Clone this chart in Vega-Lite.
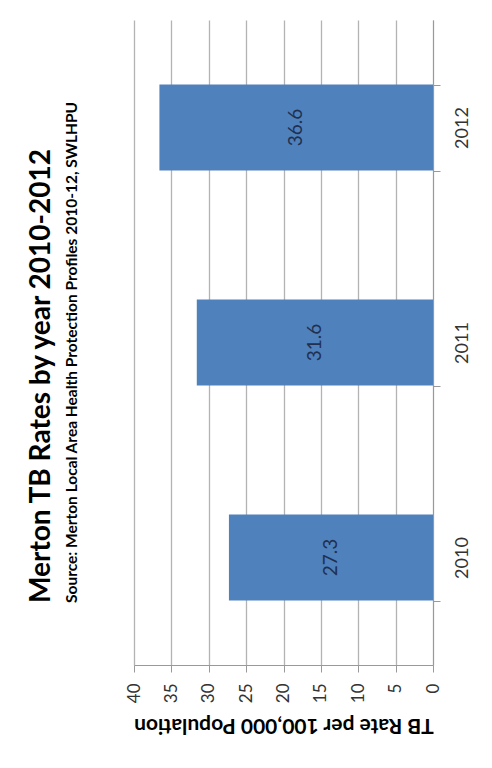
{
  "$schema": "https://vega.github.io/schema/vega-lite/v6.json",
  "width": 299,
  "height": 645,
  "autosize": {"type": "none"},
  "padding": {"left": 134, "top": 20, "right": 59, "bottom": 103},
  "background": "white",
  "data": {"values": [
    {"year": "2010", "rate": 27.3},
    {"year": "2011", "rate": 31.6},
    {"year": "2012", "rate": 36.6}
  ]},
  "title": {
    "text": "Merton TB Rates by year 2010-2012",
    "subtitle": "Source: Merton Local Area Health Protection Profiles 2010-12, SWLHPU",
    "orient": "left",
    "anchor": "start",
    "frame": "group",
    "dx": 62,
    "offset": 45,
    "font": "Lato",
    "fontSize": 28,
    "fontWeight": "bold",
    "color": "black",
    "subtitleFont": "Lato",
    "subtitleFontSize": 15.5,
    "subtitleFontWeight": "bold",
    "subtitleColor": "black",
    "subtitlePadding": 9
  },
  "config": {
    "view": {"stroke": null},
    "font": "Lato",
    "axisX": {
      "values": [0, 5, 10, 15, 20, 25, 30, 35, 40],
      "labelOverlap": false,
      "titleAngle": 180, "titleBaseline": "bottom",
      "titleFontSize": 21, "titleFontWeight": "bold", "titleColor": "black",
      "titlePadding": 12,
      "labelAngle": -90, "labelFontSize": 17, "labelColor": "#333333",
      "labelPadding": 11,
      "tickSize": 7, "tickColor": "#999999", "domainColor": "#999999",
      "grid": true, "gridColor": "#b3b3b3", "gridWidth": 1.3
    }
  },
  "layer": [
    {
      "mark": {"type": "bar", "color": "#4f81bd"},
      "encoding": {
        "y": {
          "field": "year", "type": "nominal", "sort": "descending",
          "scale": {"paddingInner": 0.6, "paddingOuter": 0.3},
          "axis": {
            "orient": "right", "title": null,
            "labelAngle": -90, "labelAlign": "center", "labelBaseline": "middle",
            "labelFontSize": 18, "labelColor": "#333333", "labelPadding": 22,
            "tickBand": "extent", "tickSize": 7, "tickColor": "#999999",
            "domainColor": "#999999", "grid": false
          }
        },
        "x": {
          "field": "rate", "type": "quantitative",
          "scale": {"domain": [0, 40], "reverse": true, "nice": false},
          "axis": {
            "values": [0, 5, 10, 15, 20, 25, 30, 35, 40],
            "title": "TB Rate per 100,000 Population"
          }
        }
      }
    },
    {
      "mark": {"type": "text", "angle": -90, "fontSize": 19, "color": "#1f3050", "align": "center", "baseline": "middle"},
      "encoding": {
        "y": {"field": "year", "type": "nominal", "sort": "descending"},
        "x": {
          "field": "rate", "type": "quantitative", "stack": "zero", "bandPosition": 0.5,
          "axis": {
            "values": [0, 5, 10, 15, 20, 25, 30, 35, 40],
            "title": "TB Rate per 100,000 Population"
          }
        },
        "text": {"field": "rate", "type": "quantitative", "format": ".1f"}
      }
    }
  ]
}
